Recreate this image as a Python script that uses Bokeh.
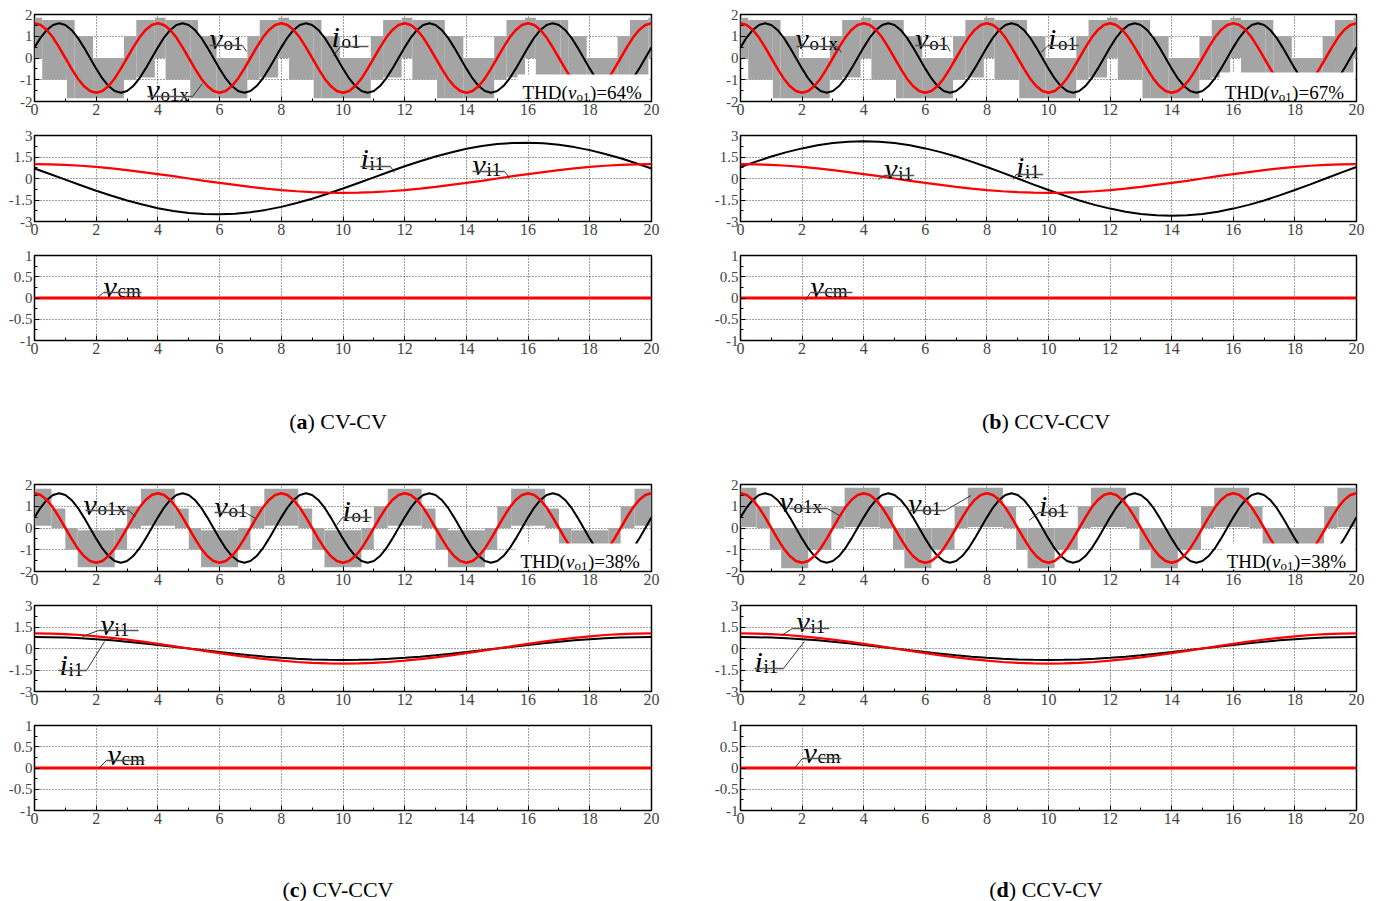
from bokeh.plotting import figure
from bokeh.layouts import column, row
from bokeh.models import (Range1d, FixedTicker, Label, Arrow, BoxAnnotation, Div, Spacer)
from bokeh.embed import file_html
from bokeh.resources import INLINE

# ---------------- data ----------------
T_OUT = [round(0.2 * k, 1) for k in range(101)]          # ms, output-side sampling
VO1 = [1.60, 1.52, 1.29, 0.94, 0.49, 0.00, -0.49, -0.94, -1.29, -1.52, -1.60, -1.52, -1.29, -0.94, -0.49, 0.00, 0.49, 0.94, 1.29, 1.52,
       1.60, 1.52, 1.29, 0.94, 0.49, 0.00, -0.49, -0.94, -1.29, -1.52, -1.60, -1.52, -1.29, -0.94, -0.49, 0.00, 0.49, 0.94, 1.29, 1.52,
       1.60, 1.52, 1.29, 0.94, 0.49, 0.00, -0.49, -0.94, -1.29, -1.52, -1.60, -1.52, -1.29, -0.94, -0.49, 0.00, 0.49, 0.94, 1.29, 1.52,
       1.60, 1.52, 1.29, 0.94, 0.49, 0.00, -0.49, -0.94, -1.29, -1.52, -1.60, -1.52, -1.29, -0.94, -0.49, 0.00, 0.49, 0.94, 1.29, 1.52,
       1.60, 1.52, 1.29, 0.94, 0.49, 0.00, -0.49, -0.94, -1.29, -1.52, -1.60, -1.52, -1.29, -0.94, -0.49, 0.00, 0.49, 0.94, 1.29, 1.52,
       1.60]
IO1 = [0.49, 0.94, 1.29, 1.52, 1.60, 1.52, 1.29, 0.94, 0.49, 0.00, -0.49, -0.94, -1.29, -1.52, -1.60, -1.52, -1.29, -0.94, -0.49, 0.00,
       0.49, 0.94, 1.29, 1.52, 1.60, 1.52, 1.29, 0.94, 0.49, 0.00, -0.49, -0.94, -1.29, -1.52, -1.60, -1.52, -1.29, -0.94, -0.49, 0.00,
       0.49, 0.94, 1.29, 1.52, 1.60, 1.52, 1.29, 0.94, 0.49, 0.00, -0.49, -0.94, -1.29, -1.52, -1.60, -1.52, -1.29, -0.94, -0.49, 0.00,
       0.49, 0.94, 1.29, 1.52, 1.60, 1.52, 1.29, 0.94, 0.49, 0.00, -0.49, -0.94, -1.29, -1.52, -1.60, -1.52, -1.29, -0.94, -0.49, 0.00,
       0.49, 0.94, 1.29, 1.52, 1.60, 1.52, 1.29, 0.94, 0.49, 0.00, -0.49, -0.94, -1.29, -1.52, -1.60, -1.52, -1.29, -0.94, -0.49, 0.00,
       0.49]

T_IN = [round(0.5 * k, 1) for k in range(41)]            # ms, input-side sampling
VI1_AB = [1.00, 0.99, 0.95, 0.89, 0.81, 0.71, 0.59, 0.45, 0.31, 0.16, 0.00, -0.16, -0.31, -0.45, -0.59, -0.71, -0.81, -0.89, -0.95, -0.99,
          -1.00, -0.99, -0.95, -0.89, -0.81, -0.71, -0.59, -0.45, -0.31, -0.16, 0.00, 0.16, 0.31, 0.45, 0.59, 0.71, 0.81, 0.89, 0.95, 0.99, 1.00]
II1_A = [0.70, 0.31, -0.08, -0.47, -0.85, -1.20, -1.53, -1.82, -2.07, -2.26, -2.40, -2.48, -2.50, -2.46, -2.35, -2.19, -1.98, -1.71, -1.41, -1.06,
         -0.70, -0.31, 0.08, 0.47, 0.85, 1.20, 1.53, 1.82, 2.07, 2.26, 2.40, 2.48, 2.50, 2.46, 2.35, 2.19, 1.98, 1.71, 1.41, 1.06, 0.70]
II1_B = [0.80, 1.18, 1.53, 1.84, 2.10, 2.32, 2.47, 2.57, 2.60, 2.57, 2.47, 2.32, 2.10, 1.84, 1.53, 1.18, 0.80, 0.41, 0.00, -0.41,
         -0.80, -1.18, -1.53, -1.84, -2.10, -2.32, -2.47, -2.57, -2.60, -2.57, -2.47, -2.32, -2.10, -1.84, -1.53, -1.18, -0.80, -0.41, 0.00, 0.41, 0.80]
VI1_CD = [1.05, 1.04, 1.00, 0.94, 0.85, 0.74, 0.62, 0.48, 0.32, 0.16, 0.00, -0.16, -0.32, -0.48, -0.62, -0.74, -0.85, -0.94, -1.00, -1.04,
          -1.05, -1.04, -1.00, -0.94, -0.85, -0.74, -0.62, -0.48, -0.32, -0.16, 0.00, 0.16, 0.32, 0.48, 0.62, 0.74, 0.85, 0.94, 1.00, 1.04, 1.05]
II1_CD = [0.80, 0.79, 0.76, 0.71, 0.65, 0.57, 0.47, 0.36, 0.25, 0.13, 0.00, -0.13, -0.25, -0.36, -0.47, -0.57, -0.65, -0.71, -0.76, -0.79,
          -0.80, -0.79, -0.76, -0.71, -0.65, -0.57, -0.47, -0.36, -0.25, -0.13, 0.00, 0.13, 0.25, 0.36, 0.47, 0.57, 0.65, 0.71, 0.76, 0.79, 0.80]

T_CM = [0.0, 20.0]
VCM = [0.0, 0.0]

# switching band of v_o1x: step edges (ms) and upper / lower envelope of each step
BAND_A_T = [0, 0.25, 1.05, 1.3, 1.9, 2.9, 3.3, 3.9, 4.25, 5.05, 5.3, 5.9, 6.9, 7.3, 7.9, 8.25, 9.05, 9.3, 9.9, 10.9, 11.3, 11.9,
            12.25, 13.05, 13.3, 13.9, 14.9, 15.3, 15.9, 16.25, 17.05, 17.3, 17.9, 18.9, 19.3, 19.9, 20]
BAND_A_HI = [1.85, 1.75, 1.75, 1.0, 0.0, 1.0, 1.75, 1.85, 1.75, 1.75, 1.0, 0.0, 1.0, 1.75, 1.85, 1.75, 1.75, 1.0, 0.0, 1.0, 1.75,
             1.85, 1.75, 1.75, 1.0, 0.0, 1.0, 1.75, 1.85, 1.75, 1.75, 1.0, 0.0, 1.0, 1.75, 1.85]
BAND_A_LO = [0.0, -1.0, -1.85, -1.85, -1.85, -1.0, -0.9, 0.0, -1.0, -1.85, -1.85, -1.85, -1.0, -0.9, 0.0, -1.0, -1.85, -1.85, -1.85, -1.0, -0.9,
             0.0, -1.0, -1.85, -1.85, -1.85, -1.0, -0.9, 0.0, -1.0, -1.85, -1.85, -1.85, -1.0, -0.9, 0.0]
BAND_B_T = BAND_A_T
BAND_B_HI = BAND_A_HI
BAND_B_LO = BAND_A_LO
BAND_C_T = [0, 0.55, 1.0, 1.4, 2.6, 3.0, 3.45, 4.55, 5.0, 5.4, 6.6, 7.0, 7.45, 8.55, 9.0, 9.4, 10.6, 11.0, 11.45, 12.55, 13.0, 13.4,
            14.6, 15.0, 15.45, 16.55, 17.0, 17.4, 18.6, 19.0, 19.45, 20]
BAND_C_HI = [1.8, 0.9, 0.0, -0.1, 0.0, 1.0, 1.8, 0.9, 0.0, -0.1, 0.0, 1.0, 1.8, 0.9, 0.0, -0.1, 0.0, 1.0, 1.8, 0.9, 0.0, -0.1,
             0.0, 1.0, 1.8, 0.9, 0.0, -0.1, 0.0, 1.0, 1.8]
BAND_C_LO = [0.1, 0.0, -1.0, -1.8, -1.0, 0.0, 0.1, 0.0, -1.0, -1.8, -1.0, 0.0, 0.1, 0.0, -1.0, -1.8, -1.0, 0.0, 0.1, 0.0, -1.0, -1.8,
             -1.0, 0.0, 0.1, 0.0, -1.0, -1.8, -1.0, 0.0, 0.1]
BAND_D_T = [0, 0.52, 0.95, 1.32, 2.2, 2.95, 3.38, 4.52, 4.95, 5.32, 6.2, 6.95, 7.38, 8.52, 8.95, 9.32, 10.2, 10.95, 11.38, 12.52,
            12.95, 13.32, 14.2, 14.95, 15.38, 16.52, 16.95, 17.32, 18.2, 18.95, 19.38, 20]
BAND_D_HI = [1.85, 1.0, 0.0, 0.0, 0.0, 1.0, 1.85, 1.0, 0.0, 0.0, 0.0, 1.0, 1.85, 1.0, 0.0, 0.0, 0.0, 1.0, 1.85, 1.0, 0.0, 0.0, 0.0, 1.0,
             1.85, 1.0, 0.0, 0.0, 0.0, 1.0, 1.85]
BAND_D_LO = [0.05, 0.0, -1.0, -1.85, -1.0, 0.0, 0.05, 0.0, -1.0, -1.85, -1.0, 0.0, 0.05, 0.0, -1.0, -1.85, -1.0, 0.0, 0.05, 0.0, -1.0, -1.85,
             -1.0, 0.0, 0.05, 0.0, -1.0, -1.85, -1.0, 0.0, 0.05]

THD = {"a": "64%", "b": "67%", "c": "38%", "d": "38%"}
CAPTIONS = {"a": "CV-CV", "b": "CCV-CCV", "c": "CV-CCV", "d": "CCV-CV"}

# ---------------- styling helpers ----------------
FW = 617
FONT = "Liberation Serif"
GRAY = "#a4a4a4"
BR = 15


def fmt(v):
    return ("%g" % v)


def make_fig(BL, FH, ymin, ymax, yt, ymt, top_b, bot_b):
    p = figure(width=BL + FW + BR, height=top_b + FH + bot_b,
               x_range=Range1d(0, 20), y_range=Range1d(ymin, ymax),
               output_backend="svg", toolbar_location=None,
               min_border_left=BL, min_border_right=BR, min_border_top=top_b, min_border_bottom=bot_b)
    p.background_fill_color = "white"
    p.border_fill_color = "white"
    p.outline_line_color = "black"
    p.outline_line_width = 1.5
    xt = list(range(0, 21, 2))
    xmt = list(range(1, 20, 2))
    for ax, ticks, mt, fs in ((p.xaxis[0], xt, xmt, "16px"), (p.yaxis[0], yt, ymt, "15px")):
        ax.ticker = FixedTicker(ticks=ticks, minor_ticks=mt)
        ax.major_label_overrides = {t: fmt(t) for t in ticks}
        ax.major_tick_in = 5
        ax.major_tick_out = 0
        ax.minor_tick_in = 3
        ax.minor_tick_out = 0
        ax.axis_line_color = None
        ax.major_label_text_font = FONT
        ax.major_label_text_font_size = fs
        ax.major_label_standoff = 2
    p.xgrid.ticker = FixedTicker(ticks=xt)
    p.ygrid.ticker = FixedTicker(ticks=yt)
    for g in (p.xgrid[0], p.ygrid[0]):
        g.grid_line_color = "black"
        g.grid_line_dash = "1 2"
        g.grid_line_alpha = 0.75
        g.grid_line_width = 1
    return p


class Frame:
    def __init__(self, FL, FT, FH, ymin, ymax):
        self.FL, self.FT, self.FH, self.ymin, self.ymax = FL, FT, FH, ymin, ymax

    def d(self, px, py):
        return ((px - self.FL) / FW * 20.0, self.ymax - (py - self.FT) / self.FH * (self.ymax - self.ymin))


def put(p, fr, px, py, text, size, style="normal"):
    x, y = fr.d(px, py)
    p.add_layout(Label(x=x, y=y, text=text, text_font=FONT, text_font_size="%dpx" % size,
                       text_font_style=style, text_baseline="alphabetic", text_align="left",
                       text_color="black"))


def seg(p, fr, a, b, color="#333333", w=1.0):
    x0, y0 = fr.d(*a)
    x1, y1 = fr.d(*b)
    p.add_layout(Arrow(end=None, x_start=x0, y_start=y0, x_end=x1, y_end=y1,
                       line_color=color, line_width=w))


def mlabel(p, fr, base, sub, vpos, spos, uline, leader):
    put(p, fr, vpos[0], vpos[1], base, 30, "italic")
    put(p, fr, spos[0], spos[1], sub, 19)
    seg(p, fr, (uline[0], uline[2]), (uline[1], uline[2]), color="#555555", w=1.5)
    seg(p, fr, leader[0], leader[1])


def thd_box(p, fr, box, x0, base, val):
    l, t = fr.d(box[0], box[1])
    r, b = fr.d(box[2], box[3])
    p.add_layout(BoxAnnotation(left=l, right=r, top=t, bottom=b, fill_color="white", fill_alpha=1.0,
                               line_color=None, level="annotation"))
    put(p, fr, x0, base, "THD(", 19)
    put(p, fr, x0 + 45.4, base, "v", 19, "italic")
    put(p, fr, x0 + 54.0, base + 4, "o1", 13)
    put(p, fr, x0 + 67.5, base, ")=" + val, 19)


def panel(key, FL, BL, top1, FTs, band_t, band_hi, band_lo, ii1, vi1, lab):
    f1 = Frame(FL, FTs[0], 87, -2, 2)
    f2 = Frame(FL, FTs[1], 86, -3, 3)
    f3 = Frame(FL, FTs[2], 85, -1, 1)
    p1 = make_fig(BL, 87, -2, 2, [-2, -1, 0, 1, 2], [-1.5, -0.5, 0.5, 1.5], top1, 25)
    p1.quad(left=band_t[:-1], right=band_t[1:], top=band_hi, bottom=band_lo,
            fill_color=GRAY, line_color=None)
    p1.line(T_OUT, IO1, line_color="black", line_width=2)
    p1.line(T_OUT, VO1, line_color="#ff0000", line_width=2.5)
    for item in lab["top"]:
        mlabel(p1, f1, *item)
    thd_box(p1, f1, lab["thd"][0], lab["thd"][1], lab["thd"][2], THD[key])

    p2 = make_fig(BL, 86, -3, 3, [-3, -1.5, 0, 1.5, 3], [-2.25, -0.75, 0.75, 2.25], 9, 25)
    p2.line(T_IN, ii1, line_color="black", line_width=2)
    p2.line(T_IN, vi1, line_color="#ff0000", line_width=2.2)
    for item in lab["mid"]:
        mlabel(p2, f2, *item)

    p3 = make_fig(BL, 85, -1, 1, [-1, -0.5, 0, 0.5, 1], [-0.75, -0.25, 0.25, 0.75], 9, 40)
    p3.line(T_CM, VCM, line_color="#ff0000", line_width=3)
    for item in lab["bot"]:
        mlabel(p3, f3, *item)
    tx = FL + 290
    put(p3, f3, tx, FTs[2] + 116, "t", 18, "italic")
    put(p3, f3, tx + 8, FTs[2] + 116, "[ms]", 18)
    return p1, p2, p3


LAB = {
    "a": {
        "top": [("v", "o1", (211, 40), (225, 45), (211, 244, 47), ((244, 47), (248, 53))),
                ("i", "o1", (333, 38), (343, 43), (342, 370, 48), ((342, 48), (335, 57))),
                ("v", "o1x", (148, 91), (162, 96), (149, 194, 98), ((194, 98), (204, 85)))],
        "thd": ((519, 76, 651, 101), 524, 94),
        "mid": [("i", "i1", (362, 160), (371, 165), (362, 392, 168), ((392, 168), (396, 174))),
                ("v", "i1", (474, 166), (488, 171), (474, 506, 173), ((506, 173), (511, 179)))],
        "bot": [("v", "cm", (105, 288), (119, 292), (105, 143, 294), ((105, 294), (98, 300)))],
    },
    "b": {
        "top": [("v", "o1x", (796, 40), (810, 45), (797, 838, 48), ((838, 48), (842, 54))),
                ("v", "o1", (916, 40), (930, 45), (916, 948, 47), ((948, 47), (951, 53))),
                ("i", "o1", (1049, 40), (1059, 45), (1049, 1080, 47), ((1049, 47), (1042, 54)))],
        "thd": ((1221, 74, 1356, 101), 1226, 94),
        "mid": [("v", "i1", (885, 170), (899, 175), (885, 915, 177), ((885, 177), (879, 181))),
                ("i", "i1", (1017, 168), (1026, 173), (1017, 1044, 176), ((1017, 176), (1014, 181)))],
        "bot": [("v", "cm", (811, 288), (825, 292), (811, 853, 294), ((811, 294), (806, 302)))],
    },
    "c": {
        "top": [("v", "o1x", (85, 506), (99, 510), (87, 130, 512), ((130, 512), (137, 518))),
                ("v", "o1", (216, 508), (230, 512), (216, 247, 514), ((247, 514), (257, 520))),
                ("i", "o1", (344, 512), (353, 517), (344, 373, 519), ((344, 519), (338, 527)))],
        "thd": ((517, 545, 651, 571), 522, 563),
        "mid": [("v", "i1", (102, 626), (116, 631), (100, 140, 632), ((100, 632), (84, 638))),
                ("i", "i1", (61, 666), (70, 671), (60, 88, 672), ((88, 672), (106, 643)))],
        "bot": [("v", "cm", (109, 756), (123, 760), (108, 146, 762), ((108, 762), (100, 770)))],
    },
    "d": {
        "top": [("v", "o1x", (780, 503), (794, 508), (790, 828, 510), ((828, 510), (840, 517))),
                ("v", "o1", (909, 505), (923, 510), (909, 946, 512), ((946, 512), (972, 497))),
                ("i", "o1", (1040, 507), (1049, 512), (1040, 1069, 514), ((1040, 514), (1030, 522)))],
        "thd": ((1223, 545, 1356, 571), 1228, 563),
        "mid": [("v", "i1", (797, 623), (811, 628), (793, 830, 630), ((793, 630), (782, 637))),
                ("i", "i1", (755, 663), (764, 668), (755, 784, 670), ((784, 670), (805, 643)))],
        "bot": [("v", "cm", (804, 754), (818, 758), (803, 842, 760), ((803, 760), (795, 770)))],
    },
}

pa = panel("a", 36, 34, 14, (16, 137, 257), BAND_A_T, BAND_A_HI, BAND_A_LO, II1_A, VI1_AB, LAB["a"])
pb = panel("b", 741, 28, 14, (16, 137, 257), BAND_B_T, BAND_B_HI, BAND_B_LO, II1_B, VI1_AB, LAB["b"])
pc = panel("c", 36, 34, 8, (486, 607, 727), BAND_C_T, BAND_C_HI, BAND_C_LO, II1_CD, VI1_CD, LAB["c"])
pd = panel("d", 741, 28, 8, (486, 607, 727), BAND_D_T, BAND_D_HI, BAND_D_LO, II1_CD, VI1_CD, LAB["d"])


def caption(key, w, h, pad, lh):
    html = ('<div style="width:%dpx;text-align:center;font-family:\'Liberation Serif\';font-size:22px;'
            'line-height:%dpx;padding-top:%dpx;color:black">(<b>%s</b>) %s</div>' % (w, lh, pad, key, CAPTIONS[key]))
    return Div(text=html, width=w, height=h)


colA = column(*pa, caption("a", 666, 86, 25, 24))
colB = column(*pb, caption("b", 660, 86, 25, 24))
colC = column(*pc, caption("c", 666, 45, 24, 22))
colD = column(*pd, caption("d", 660, 45, 24, 22))
layout = column(row(colA, Spacer(width=35, height=10), colB),
                row(colC, Spacer(width=35, height=10), colD))

open("out.html", "w").write(file_html(layout, INLINE))
